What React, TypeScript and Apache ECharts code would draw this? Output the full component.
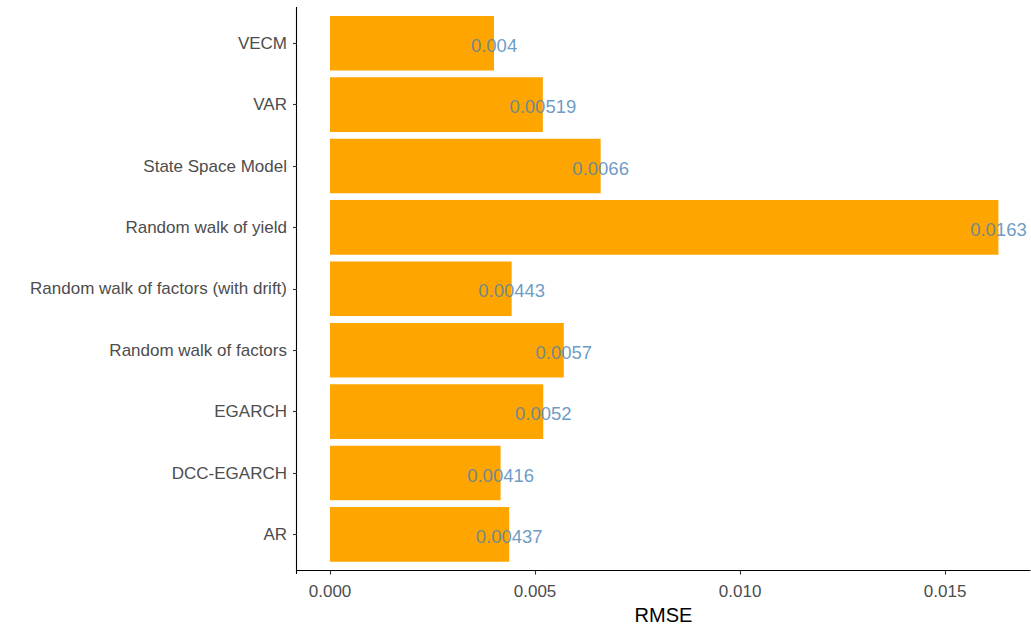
import React, { useEffect, useRef } from "react";
import * as echarts from "echarts";

const categories = [
  "AR",
  "DCC-EGARCH",
  "EGARCH",
  "Random walk of factors",
  "Random walk of factors (with drift)",
  "Random walk of yield",
  "State Space Model",
  "VAR",
  "VECM",
];
const rmseValues = [0.00437, 0.00416, 0.0052, 0.0057, 0.00443, 0.0163, 0.0066, 0.00519, 0.004];
const xTicks = [0, 0.005, 0.01, 0.015];
const xTickLabels = ["0.000", "0.005", "0.010", "0.015"];

export default function App() {
  const ref = useRef<HTMLDivElement>(null);
  useEffect(() => {
    if (!ref.current) return;
    const chart = echarts.init(ref.current, null, { renderer: "svg" });
    const font = "'Liberation Sans', Arial, sans-serif";
    chart.setOption({
      animation: false,
      backgroundColor: "#ffffff",
      grid: { left: 297, width: 733, top: 12.5, height: 555, containLabel: false },
      xAxis: {
        type: "value",
        min: -0.000805,
        max: 0.01707,
        offset: 5.5,
        name: "RMSE",
        nameLocation: "middle",
        nameGap: 34,
        nameTextStyle: { color: "#000000", fontSize: 20, fontFamily: font },
        axisLine: { show: true, onZero: false, lineStyle: { color: "#000000", width: 1.1 } },
        axisTick: { show: true, length: 4, customValues: xTicks, lineStyle: { color: "#333333", width: 1.1 } },
        axisLabel: {
          customValues: xTicks,
          color: "#4D4D4D",
          fontSize: 17,
          fontFamily: font,
          margin: 12.5,
          formatter: (v: number) => {
            const i = xTicks.findIndex((t) => Math.abs(t - v) < 1e-9);
            return i >= 0 ? xTickLabels[i] : "";
          },
        },
        splitLine: { show: false },
      },
      yAxis: {
        type: "category",
        data: categories,
        axisLine: { show: false, onZero: false },
        axisTick: { show: true, alignWithLabel: true, length: 4, lineStyle: { color: "#333333", width: 1.1 } },
        axisLabel: { color: "#4D4D4D", fontSize: 17, fontFamily: font, margin: 10 },
        splitLine: { show: false },
      },
      graphic: [
        {
          type: "line",
          shape: { x1: 296.5, y1: 7, x2: 296.5, y2: 574 },
          style: { stroke: "#000000", lineWidth: 1.1 },
        },
      ],
      series: [
        {
          type: "bar",
          data: rmseValues,
          barWidth: "89%",
          itemStyle: { color: "#FFA500" },
        },
        {
          type: "scatter",
          data: rmseValues.map((v, i) => [v, categories[i]]),
          symbolSize: 0,
          label: {
            show: true,
            position: "inside",
            formatter: (p: any) => String(p.value[0]),
            color: "#4682B4",
            fontSize: 18.5,
            fontFamily: font,
            offset: [0, 2],
          },
          z: 5,
        },
      ],
    });
    return () => chart.dispose();
  }, []);
  return (
    <div
      ref={ref}
      style={{ position: "fixed", left: 0, top: 0, width: 1031, height: 630 }}
    />
  );
}
